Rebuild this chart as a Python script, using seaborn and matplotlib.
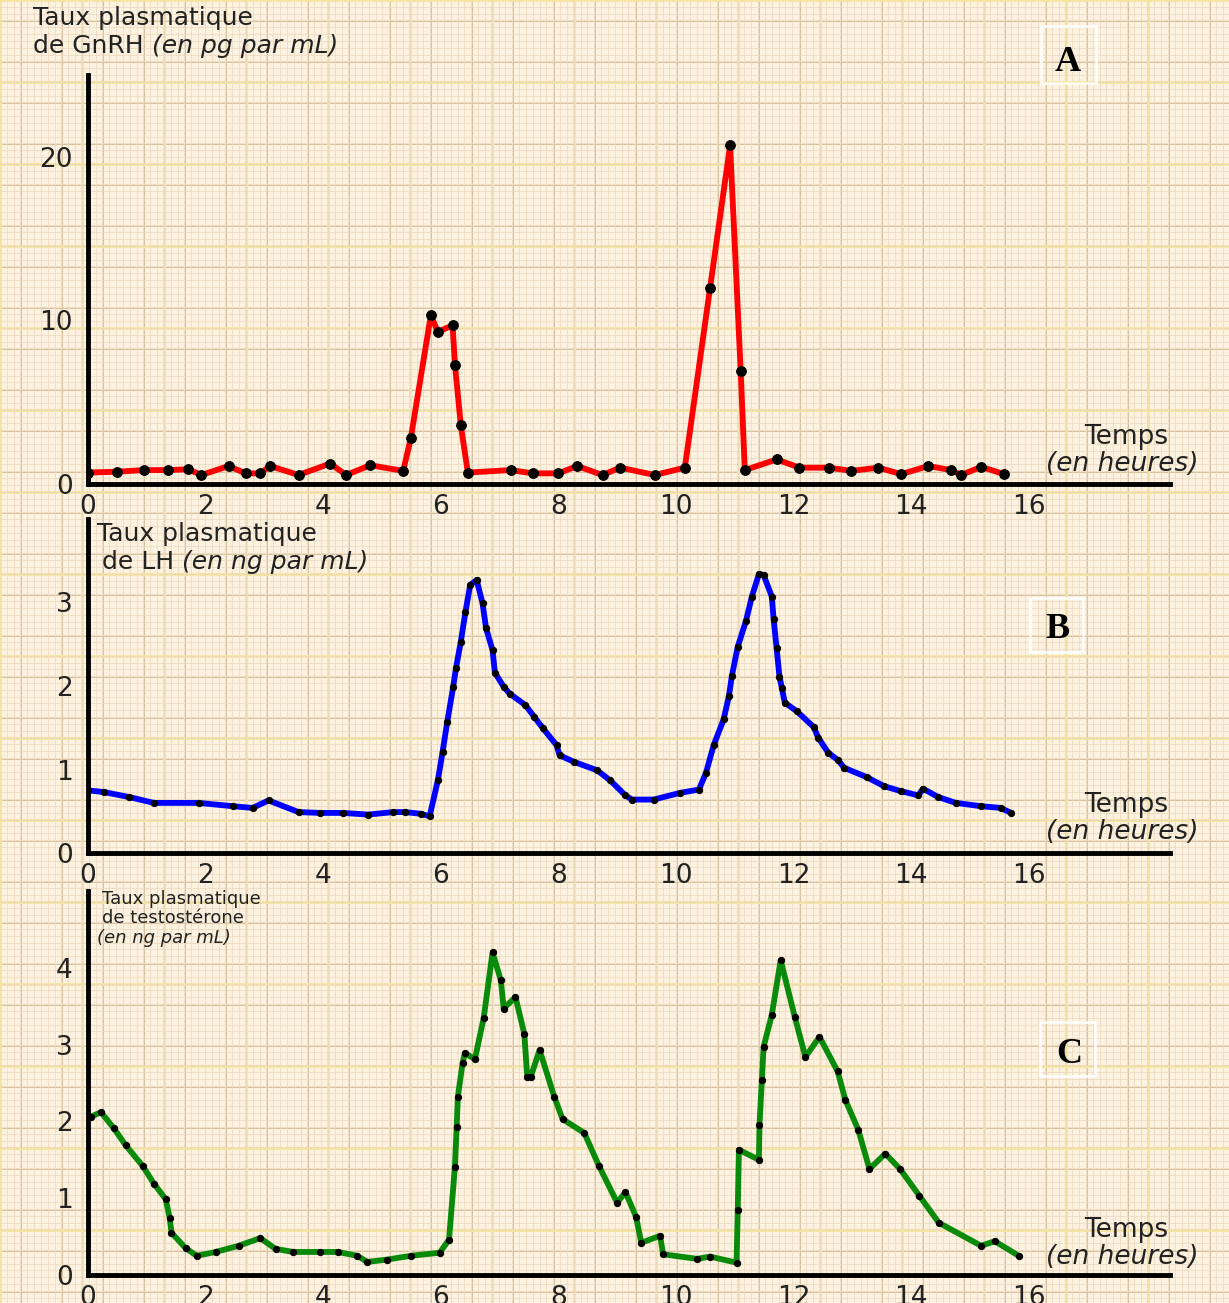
import matplotlib
matplotlib.use("Agg")
import matplotlib.pyplot as plt
from matplotlib.ticker import MultipleLocator
from matplotlib.patches import Rectangle
import seaborn as sns

# ---- data -------------------------------------------------------------
hour_ticks = [0, 2, 4, 6, 8, 10, 12, 14, 16]

gnrh_t = [0.0, 0.49, 0.95, 1.36, 1.7, 1.93, 2.39, 2.68, 2.93, 3.1, 3.58, 4.12,
          4.39, 4.8, 5.36, 5.49, 5.83, 5.95, 6.2, 6.24, 6.34, 6.46, 7.19, 7.56,
          8.0, 8.32, 8.75, 9.05, 9.64, 10.15, 10.58, 10.92, 11.1, 11.17, 11.71,
          12.1, 12.6, 12.98, 13.44, 13.83, 14.29, 14.68, 14.85, 15.19, 15.58]
gnrh_v = [0.7, 0.75, 0.85, 0.85, 0.9, 0.55, 1.1, 0.65, 0.65, 1.1, 0.55, 1.25,
          0.55, 1.15, 0.8, 2.8, 10.3, 9.3, 9.7, 7.3, 3.6, 0.7, 0.85, 0.65,
          0.65, 1.1, 0.55, 1.0, 0.55, 1.0, 12.0, 20.7, 6.9, 0.85, 1.5,
          1.0, 1.0, 0.8, 1.0, 0.6, 1.1, 0.85, 0.55, 1.05, 0.6]
gnrh_yticks = [0, 10, 20]

lh_t = [0.0, 0.27, 0.7, 1.12, 1.88, 2.47, 2.8, 3.07, 3.58, 3.95, 4.34, 4.76,
        5.19, 5.39, 5.66, 5.81, 5.95, 6.03, 6.11, 6.21, 6.26, 6.34, 6.42, 6.5,
        6.61, 6.71, 6.77, 6.88, 6.92, 7.07, 7.17, 7.44, 7.59, 7.73, 7.97, 8.02,
        8.27, 8.66, 8.88, 9.14, 9.25, 9.62, 10.07, 10.39, 10.51, 10.64, 10.81,
        10.9, 10.95, 11.05, 11.19, 11.29, 11.41, 11.49, 11.63, 11.66, 11.71,
        11.76, 11.8, 11.85, 12.05, 12.34, 12.42, 12.59, 12.76, 12.86, 13.24,
        13.54, 13.83, 14.12, 14.2, 14.46, 14.76, 15.19, 15.52, 15.7]
lh_v = [0.75, 0.73, 0.67, 0.6, 0.6, 0.56, 0.54, 0.63, 0.49, 0.48, 0.48, 0.46,
        0.49, 0.49, 0.47, 0.44, 0.87, 1.21, 1.57, 1.99, 2.22, 2.53, 2.89, 3.21,
        3.27, 2.99, 2.69, 2.43, 2.16, 1.99, 1.91, 1.77, 1.63, 1.5, 1.29, 1.17,
        1.09, 0.99, 0.87, 0.69, 0.64, 0.64, 0.72, 0.76, 0.96, 1.29, 1.6,
        1.88, 2.12, 2.47, 2.78, 3.07, 3.34, 3.33, 3.07, 2.8, 2.46,
        2.11, 1.98, 1.8, 1.7, 1.51, 1.38, 1.2, 1.11, 1.02, 0.91,
        0.8, 0.74, 0.69, 0.77, 0.67, 0.6, 0.56, 0.54, 0.48]
lh_yticks = [0, 1, 2, 3]

testo_t = [0.05, 0.22, 0.44, 0.64, 0.93, 1.12, 1.32, 1.39, 1.42, 1.66, 1.85,
           2.17, 2.56, 2.93, 3.19, 3.49, 3.95, 4.25, 4.58, 4.75, 5.08, 5.49,
           5.98, 6.14, 6.24, 6.27, 6.29, 6.37, 6.41, 6.58, 6.73, 6.88, 7.02,
           7.07, 7.27, 7.42, 7.47, 7.53, 7.68, 7.93, 8.07, 8.44, 8.69, 9.0,
           9.14, 9.32, 9.41, 9.73, 9.78, 10.36, 10.58, 11.03, 11.05, 11.07,
           11.41, 11.42, 11.46, 11.49, 11.63, 11.78, 12.02, 12.2, 12.44, 12.75,
           12.88, 13.1, 13.29, 13.56, 13.81, 14.14, 14.47, 15.19, 15.42, 15.83]
testo_v = [2.06, 2.12, 1.91, 1.69, 1.42, 1.19, 0.99, 0.74, 0.55, 0.35, 0.25,
           0.3, 0.38, 0.48, 0.34, 0.3, 0.3, 0.3, 0.25, 0.17, 0.2, 0.25,
           0.29, 0.46, 1.41, 1.93, 2.32, 2.76, 2.89, 2.81, 3.35, 4.2, 3.84,
           3.47, 3.62, 3.14, 2.58, 2.58, 2.93, 2.32, 2.03, 1.85, 1.42, 0.94,
           1.08, 0.76, 0.42, 0.51, 0.27, 0.21, 0.24, 0.16, 0.85, 1.63,
           1.5, 1.95, 2.54, 2.97, 3.39, 4.1, 3.36, 2.84, 3.1, 2.65,
           2.28, 1.89, 1.38, 1.58, 1.38, 1.03, 0.68, 0.38, 0.44, 0.25]
testo_yticks = [0, 1, 2, 3, 4]

# ---- style ------------------------------------------------------------
sns.set_theme(style="white")
plt.rcParams["font.family"] = ["DejaVu Sans"]

W, H = 1229, 1303
fig = plt.figure(figsize=(W / 100, H / 100), dpi=100)
renderer = fig.canvas.get_renderer()

# graph-paper backdrop, in pixel units
bg = fig.add_axes([0, 0, 1, 1], zorder=0)
bg.set_xlim(0, W)
bg.set_ylim(H, 0)
bg.set_facecolor("#FDF2DF")
bg.xaxis.set_major_locator(MultipleLocator(82))
bg.yaxis.set_major_locator(MultipleLocator(82))
bg.xaxis.set_minor_locator(MultipleLocator(6.83))
bg.yaxis.set_minor_locator(MultipleLocator(6.83))
bg.grid(True, which="minor", color="#EAD8BF", lw=0.5)
bg.grid(True, which="major", color="#F3E4A2", lw=2.0)
for k in range(0, W, 41):
    bg.axvline(k + 20.5, color="#D7C2A0", lw=0.7, zorder=0.5)
for k in range(0, H, 41):
    bg.axhline(k + 20.5, color="#D7C2A0", lw=0.7, zorder=0.5)
bg.tick_params(which="both", length=0, labelbottom=False, labelleft=False)
for s in bg.spines.values():
    s.set_visible(False)

X_LEFT, X_RIGHT = 88, 1170
PX_PER_HOUR = 58.8
xmax = (X_RIGHT - X_LEFT) / PX_PER_HOUR


def panel(axis_y, top_y, ymax, t, v, color, yticks, ms):
    rect = [X_LEFT / W, (H - axis_y) / H, (X_RIGHT - X_LEFT) / W,
            (axis_y - top_y) / H]
    ax = fig.add_axes(rect, zorder=2)
    ax.patch.set_alpha(0)
    sns.lineplot(x=t, y=v, ax=ax, color=color, lw=4.2, marker="o",
                 markersize=ms, markerfacecolor="black",
                 markeredgecolor="black", estimator=None, sort=False)
    ax.set_xlim(0, xmax)
    ax.set_ylim(0, ymax)
    ax.set_xticks(hour_ticks)
    ax.set_yticks(yticks)
    ax.set_xlabel("")
    ax.set_ylabel("")
    for side in ("top", "right"):
        ax.spines[side].set_visible(False)
    for side in ("left", "bottom"):
        ax.spines[side].set_color("black")
        ax.spines[side].set_linewidth(3.5)
    ax.tick_params(axis="y", direction="out", length=8, width=3, pad=3,
                   labelsize=19, labelcolor="#222222", color="black")
    ax.tick_params(axis="x", direction="out", length=6, width=3, pad=1,
                   labelsize=19, labelcolor="#222222", color="black")
    return ax


panel(484, 75, 25, gnrh_t, gnrh_v, "#FF0000", gnrh_yticks, 7)
panel(853, 519, 4, lh_t, lh_v, "#0000FF", lh_yticks, 4.5)
panel(1275, 891, 5, testo_t, testo_v, "#0A8A0A", testo_yticks, 4.5)

TXT = "#222222"


def mixed_line(x, y, plain, italic, size):
    """Upright text followed on the same baseline by italic text."""
    t1 = bg.text(x, y, plain + " ", fontsize=size, color=TXT, va="baseline")
    ext = t1.get_window_extent(renderer=renderer)
    x2 = bg.transData.inverted().transform((ext.x1, ext.y0))[0]
    bg.text(x2, y, italic, fontsize=size, color=TXT, va="baseline",
            style="italic")


# axis titles
bg.text(33, 25, "Taux plasmatique", fontsize=18, color=TXT, va="baseline")
mixed_line(33, 53, "de GnRH", "(en pg par mL)", 18)

bg.text(97, 541, "Taux plasmatique", fontsize=18, color=TXT, va="baseline")
mixed_line(102, 569, "de LH", "(en ng par mL)", 18)

bg.text(102, 904, "Taux plasmatique", fontsize=13, color=TXT, va="baseline")
bg.text(102, 923, "de testostérone", fontsize=13, color=TXT, va="baseline")
bg.text(97, 943, "(en ng par mL)", fontsize=13, color=TXT, va="baseline",
        style="italic")

for base in (444, 812, 1237):
    bg.text(1126, base, "Temps", fontsize=19, color=TXT, va="baseline",
            ha="center")
    bg.text(1122, base + 27, "(en heures)", fontsize=19, color=TXT,
            va="baseline", ha="center", style="italic")

# panel letters in white frames
for (bx, by, bw, bh, cx, base, letter) in [
        (1041, 26, 55, 57, 1068, 71, "A"),
        (1030, 598, 53, 54, 1058, 638, "B"),
        (1040, 1022, 55, 54, 1069, 1063, "C")]:
    bg.add_patch(Rectangle((bx, by), bw, bh, fill=False, ec="white", lw=1.8,
                           zorder=3))
    bg.text(cx, base, letter, fontsize=26, fontweight="bold",
            family="Liberation Serif", color="black", ha="center",
            va="baseline", zorder=3)

fig.savefig("out.png", dpi=100)
